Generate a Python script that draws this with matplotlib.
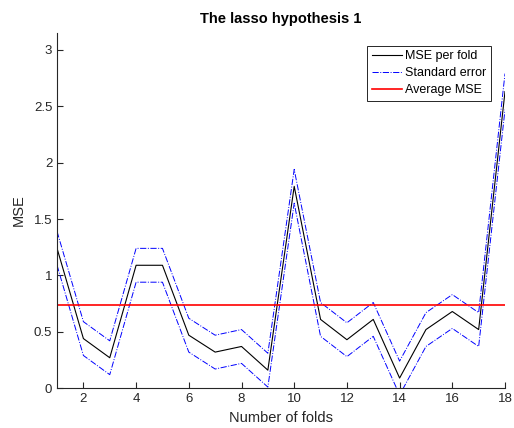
import numpy as np
import matplotlib
matplotlib.use("Agg")
import matplotlib.pyplot as plt

plt.rcParams['font.family'] = ['Liberation Sans', 'DejaVu Sans']

# values
folds = list(range(1, 19))
mse = [1.24, 0.44, 0.27, 1.09, 1.09, 0.47, 0.32, 0.37, 0.16,
       1.79, 0.61, 0.43, 0.61, 0.09, 0.52, 0.68, 0.52, 2.63]
se = [0.15, 0.15, 0.15, 0.15, 0.15, 0.15, 0.15, 0.15, 0.15,
      0.15, 0.15, 0.15, 0.15, 0.15, 0.15, 0.15, 0.15, 0.16]
avg_mse = 0.74
xticks = [2, 4, 6, 8, 10, 12, 14, 16, 18]
yticks = [0, 0.5, 1, 1.5, 2, 2.5, 3]
ytick_labels = ['0', '0.5', '1', '1.5', '2', '2.5', '3']

fig = plt.figure(figsize=(5.14, 4.28), dpi=100)
ax = fig.add_axes([0.111, 0.093, 0.8715, 0.830])

mse = np.array(mse)
se = np.array(se)

ax.plot(folds, mse, color='black', lw=0.8, label='MSE per fold')
ax.plot(folds, mse + se, color='blue', ls='-.', lw=0.7, label='Standard error')
ax.plot(folds, mse - se, color='blue', ls='-.', lw=0.7)
ax.plot([folds[0], folds[-1]], [avg_mse, avg_mse], color='red', lw=1.2, label='Average MSE')

ax.set_xlim(1, 18)
ax.set_ylim(0, 3.15)
ax.set_xticks(xticks)
ax.set_yticks(yticks)
ax.set_yticklabels(ytick_labels)

for s in ['top', 'right']:
    ax.spines[s].set_visible(False)
for s in ['left', 'bottom']:
    ax.spines[s].set_color('#262626')
    ax.spines[s].set_linewidth(0.8)
ax.tick_params(direction='in', length=4, width=0.8, colors='#262626', labelsize=9.5)

ax.set_xlabel('Number of folds', fontsize=10.5, color='#262626')
ax.set_ylabel('MSE', fontsize=10.5, color='#262626', labelpad=6)
ax.set_title('The lasso hypothesis 1', fontsize=10.5, fontweight='bold', pad=7)

leg = ax.legend(loc='upper right', bbox_to_anchor=(0.969, 0.963), fontsize=9,
                fancybox=False, framealpha=1, edgecolor='#262626',
                handlelength=2.4, borderaxespad=0.0, labelspacing=0.4,
                borderpad=0.35, handletextpad=0.3)
leg.get_frame().set_linewidth(0.7)

fig.savefig('out.png', dpi=100)
